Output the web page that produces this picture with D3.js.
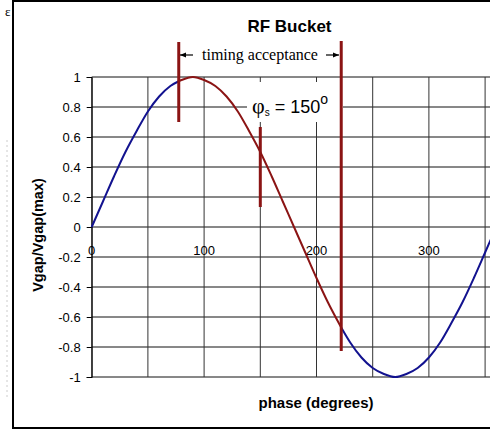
<!DOCTYPE html>
<html><head><meta charset="utf-8">
<script src="https://cdn.jsdelivr.net/npm/d3@7"></script>
<style>html,body{margin:0;padding:0;background:#fff;overflow:hidden}</style>
</head><body>
<svg id="chart" width="490" height="432"></svg>
<script>
// Data
const phases = [0,10,20,30,40,50,60,70,77,80,90,100,110,120,130,140,150,160,170,180,190,200,210,222,230,240,250,260,270,280,290,300,310,320,330,340,350,360,370];
const vgap   = [0,0.17,0.34,0.5,0.64,0.77,0.87,0.94,0.97,0.98,1.0,0.98,0.94,0.87,0.77,0.64,0.5,0.34,0.17,0,-0.17,-0.34,-0.5,-0.67,-0.77,-0.87,-0.94,-0.98,-1.0,-0.98,-0.94,-0.87,-0.77,-0.64,-0.5,-0.34,-0.17,0,0.17];
const bucketStart = 77, bucketEnd = 222, syncPhase = 150;
const xTickLabels = [0,100,200,300];
const xGrid = [0,50,100,150,200,250,300,350,400];
const yTicks = [1,0.8,0.6,0.4,0.2,0,-0.2,-0.4,-0.6,-0.8,-1];

const svg = d3.select("#chart");
const x = d3.scaleLinear().domain([0,400]).range([91.7, 91.7+449.6]);
const y = d3.scaleLinear().domain([-1,1]).range([377,77]);
const RED = "#8b1414", BLUE = "#12128f";

// outer frame
svg.append("rect").attr("x",13).attr("y",1).attr("width",520).attr("height",427)
  .attr("fill","none").attr("stroke","#000").attr("stroke-width",2);
// left-edge artifacts
svg.append("text").attr("x",5).attr("y",16).attr("font-family","Liberation Serif").attr("font-size",13).text("ε");
svg.append("line").attr("x1",7).attr("x2",7).attr("y1",140).attr("y2",400).attr("stroke","#ccc").attr("stroke-dasharray","2,3");

// gridlines
svg.append("g").selectAll("line").data(yTicks).join("line")
  .attr("x1",x(0)).attr("x2",x(400)).attr("y1",d=>y(d)).attr("y2",d=>y(d))
  .attr("stroke","#111").attr("stroke-width",1);
svg.append("g").selectAll("line").data(xGrid).join("line")
  .attr("x1",d=>x(d)).attr("x2",d=>x(d)).attr("y1",y(1)).attr("y2",y(-1))
  .attr("stroke","#333").attr("stroke-width",1);

// y axis
const yAxis = d3.axisLeft(y).tickValues(yTicks).tickSize(5).tickPadding(6).tickFormat(d3.format("~g"));
const gy = svg.append("g").attr("transform",`translate(${x(0)},0)`).call(yAxis);
gy.select(".domain").attr("stroke","#000");
gy.selectAll("text").attr("font-family","Arial, Liberation Sans").attr("font-size",13).attr("fill","#000")
  .text(d=> d===0 ? "0" : d3.format("~g")(d).replace("−","-"));
gy.selectAll("line").attr("stroke","#000");

// x labels (inside plot below zero line)
svg.append("g").selectAll("text").data(xTickLabels).join("text")
  .attr("x",d=>x(d)).attr("y",y(0)+28).attr("text-anchor","middle")
  .attr("font-family","Arial, Liberation Sans").attr("font-size",13).text(d=>d);

// curve
const line = d3.line().x((d,i)=>x(d[0])).y(d=>y(d[1])).curve(d3.curveMonotoneX);
const pts = phases.map((p,i)=>[p,vgap[i]]);
const seg1 = pts.filter(d=>d[0]<=bucketStart);
const seg2 = pts.filter(d=>d[0]>=bucketStart && d[0]<=bucketEnd);
const seg3 = pts.filter(d=>d[0]>=bucketEnd);
[[seg1,BLUE],[seg2,RED],[seg3,BLUE]].forEach(([s,c])=>{
  svg.append("path").datum(s).attr("d",line).attr("fill","none").attr("stroke",c).attr("stroke-width",2);
});

// phi_s label with white background
svg.append("rect").attr("x",247).attr("y",82).attr("width",96).attr("height",40).attr("fill","#fff");
const phi = svg.append("text").attr("x",252).attr("y",113).attr("font-family","Arial, Liberation Sans").attr("font-size",18);
phi.append("tspan").attr("font-family","Liberation Serif").attr("font-size",22).text("φ");
phi.append("tspan").attr("font-size",10).attr("dy",3).text("s");
phi.append("tspan").attr("dy",-3).text(" = 150");
phi.append("tspan").attr("font-size",14).attr("dy",-9).text("o");

// vertical markers
svg.append("line").attr("x1",x(bucketStart)+0.5).attr("x2",x(bucketStart)+0.5).attr("y1",42).attr("y2",122)
  .attr("stroke",RED).attr("stroke-width",3);
svg.append("line").attr("x1",x(syncPhase)).attr("x2",x(syncPhase)).attr("y1",127).attr("y2",207)
  .attr("stroke",RED).attr("stroke-width",3);
svg.append("line").attr("x1",x(bucketEnd)).attr("x2",x(bucketEnd)).attr("y1",41).attr("y2",351)
  .attr("stroke",RED).attr("stroke-width",3);

// timing acceptance with arrows
svg.append("defs").append("marker").attr("id","ah").attr("viewBox","0 0 10 10").attr("refX",10).attr("refY",5)
  .attr("markerWidth",5).attr("markerHeight",5).attr("orient","auto")
  .append("path").attr("d","M0,1 L10,5 L0,9 Z").attr("fill","#000");
svg.append("line").attr("x1",193).attr("x2",180).attr("y1",55).attr("y2",55).attr("stroke","#000").attr("stroke-width",1.2).attr("marker-end","url(#ah)");
svg.append("line").attr("x1",326).attr("x2",339).attr("y1",55).attr("y2",55).attr("stroke","#000").attr("stroke-width",1.2).attr("marker-end","url(#ah)");
svg.append("text").attr("x",260).attr("y",60).attr("text-anchor","middle")
  .attr("font-family","Liberation Serif, Times New Roman").attr("font-size",16).text("timing acceptance");

// title
svg.append("text").attr("x",289.5).attr("y",32).attr("text-anchor","middle")
  .attr("font-family","Arial, Liberation Sans").attr("font-weight","bold").attr("font-size",17).text("RF Bucket");

// axis titles
svg.append("text").attr("transform","translate(43,235) rotate(-90)").attr("text-anchor","middle")
  .attr("font-family","Arial, Liberation Sans").attr("font-weight","bold").attr("font-size",14.5).text("Vgap/Vgap(max)");
svg.append("text").attr("x",316).attr("y",408).attr("text-anchor","middle")
  .attr("font-family","Arial, Liberation Sans").attr("font-weight","bold").attr("font-size",15).text("phase (degrees)");
</script>
</body></html>
